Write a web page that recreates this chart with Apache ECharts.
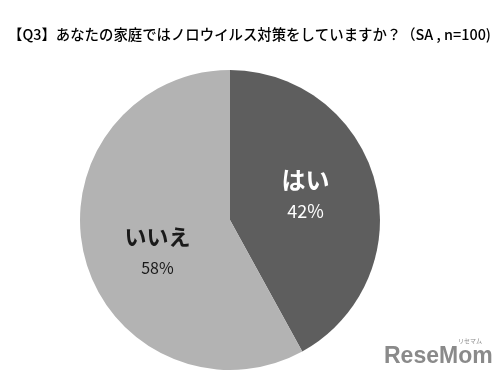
<!DOCTYPE html>
<html><head><meta charset="utf-8">
<script src="https://cdn.jsdelivr.net/npm/echarts@6/dist/echarts.min.js"></script>
<style>html,body{margin:0;padding:0;background:#fff}#c{width:495px;height:378px}</style>
</head><body><div id="c"></div>
<script>
const categories = ['はい', 'いいえ'];
const values = [42, 58];
const colors = ['#5e5e5e', '#b3b3b3'];
const labelColors = ['#ffffff', '#1a1a1a'];
const titleText = '【Q3】あなたの家庭ではノロウイルス対策をしていますか？（SA , n=100)';

const chart = echarts.init(document.getElementById('c'));
chart.setOption({
  animation: false,
  title: {
    text: titleText, left: 3, top: 22,
    textStyle: {fontFamily: 'Noto Sans CJK JP', fontSize: 14.4, fontWeight: 500, color: '#000'}
  },
  graphic: [
    {type: 'text', left: 384, top: 345, style: {text: 'ReseMom', font: 'bold 23px "Liberation Sans"', fill: '#8a8a8a'}},
    {type: 'text', left: 458, top: 338, style: {text: 'リセマム', font: '6px "Noto Sans CJK JP"', fill: '#8a8a8a'}}
  ],
  series: [{
    type: 'pie',
    center: [230, 220],
    radius: [0, 150],
    startAngle: 90,
    clockwise: true,
    silent: true,
    itemStyle: {borderWidth: 0},
    label: {
      position: 'inside',
      formatter: p => '{n|' + p.name + '}\n{v|' + p.value + '%}',
      rich: {
        n: {fontFamily: 'Noto Sans CJK JP', fontWeight: 'bold', fontSize: 24, lineHeight: 32},
        v: {fontFamily: 'Noto Sans CJK JP', fontSize: 17, lineHeight: 32}
      }
    },
    data: categories.map((c, i) => ({
      name: c, value: values[i],
      itemStyle: {color: colors[i]},
      label: {
        color: labelColors[i],
        padding: i === 0 ? [0, 0, 10, 0] : [26, 0, 0, 6],
        rich: {n: {color: labelColors[i], fontSize: i === 0 ? 24 : 22}, v: {color: labelColors[i], fontSize: i === 0 ? 18 : 16}}
      }
    }))
  }]
});
</script></body></html>
